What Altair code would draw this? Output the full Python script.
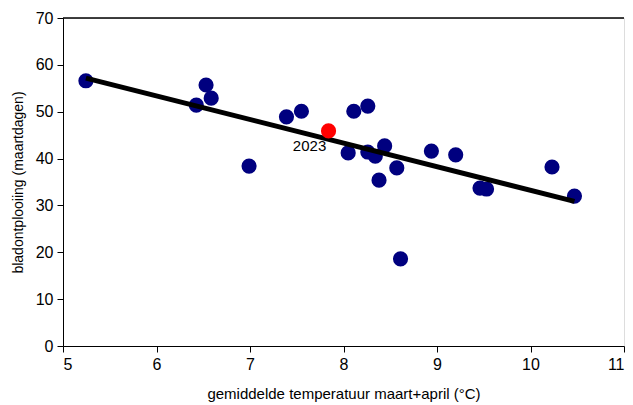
import altair as alt
import pandas as pd

temp = [5.245, 6.426, 6.53, 6.585, 6.99, 7.39, 7.55, 8.05, 8.11, 8.26, 8.26, 8.34,
        8.44, 8.38, 8.57, 8.61, 8.94, 9.20, 9.46, 9.53, 10.23, 10.47]
days = [56.6, 51.4, 55.7, 52.9, 38.4, 48.9, 50.1, 41.2, 50.1, 51.2, 41.4, 40.5,
        42.7, 35.4, 38.0, 18.6, 41.6, 40.8, 33.7, 33.5, 38.2, 32.0]
temp_2023 = [7.84]
days_2023 = [45.9]
label_2023 = ["2023"]

df = pd.DataFrame({"t": temp + temp_2023, "d": days + days_2023,
                   "jaar": ["x"] * len(temp) + ["2023"]})
df_all = df
df_hist = df[df.jaar == "x"]
df23 = pd.DataFrame({"t": temp_2023, "d": days_2023, "lab": label_2023})

font = "Liberation Sans"
xs = alt.Scale(domain=[5, 11], nice=False)
ys = alt.Scale(domain=[0, 70], nice=False)
xax = alt.Axis(values=[5, 6, 7, 8, 9, 10, 11], format="d", grid=False,
               title="gemiddelde temperatuur maart+april (°C)",
               labelFontSize=16, titleFontSize=15, titleFontWeight="normal", labelColor="black",
               titleColor="black", domainColor="black", tickColor="black", tickSize=6,
               labelPadding=4, titlePadding=14, labelFont=font, titleFont=font)
yax = alt.Axis(values=[0, 10, 20, 30, 40, 50, 60, 70], format="d", grid=False,
               title="bladontplooiing (maartdagen)",
               labelFontSize=16, titleFontSize=14, titleFontWeight="normal", labelColor="black",
               titleColor="black", domainColor="black", tickColor="black", tickSize=6,
               labelPadding=4, titlePadding=10, labelFont=font, titleFont=font)

pts = alt.Chart(df_hist).mark_circle(size=230, opacity=1, color="#00007f").encode(
    x=alt.X("t:Q", scale=xs, axis=xax), y=alt.Y("d:Q", scale=ys, axis=yax))

line = alt.Chart(df_all).transform_regression("t", "d", extent=[5.245, 10.47]).mark_line(
    color="black", strokeWidth=5).encode(x=alt.X("t:Q", scale=xs), y=alt.Y("d:Q", scale=ys))

red = alt.Chart(df23).mark_circle(size=230, opacity=1, color="#ff0000").encode(
    x=alt.X("t:Q", scale=xs), y=alt.Y("d:Q", scale=ys))

lab = alt.Chart(df23).mark_text(fontSize=15, font=font, dx=-19, dy=15, color="black").encode(
    x=alt.X("t:Q", scale=xs), y=alt.Y("d:Q", scale=ys), text="lab:N")

top = alt.Chart(df23).mark_rule(color="black", strokeWidth=1.5).encode(
    y=alt.datum(70, scale=ys), x=alt.value(0), x2=alt.value(561))

chart = alt.layer(pts, line, red, lab, top).properties(
    width=561, height=328, autosize=alt.AutoSizeParams(type="none"),
    padding={"left": 55, "top": 10, "right": 1, "bottom": 58}
).configure_view(stroke="#888888", strokeWidth=1.5).configure(background="white")

chart.save("out.html", embed_options={"renderer": "svg", "actions": False})
